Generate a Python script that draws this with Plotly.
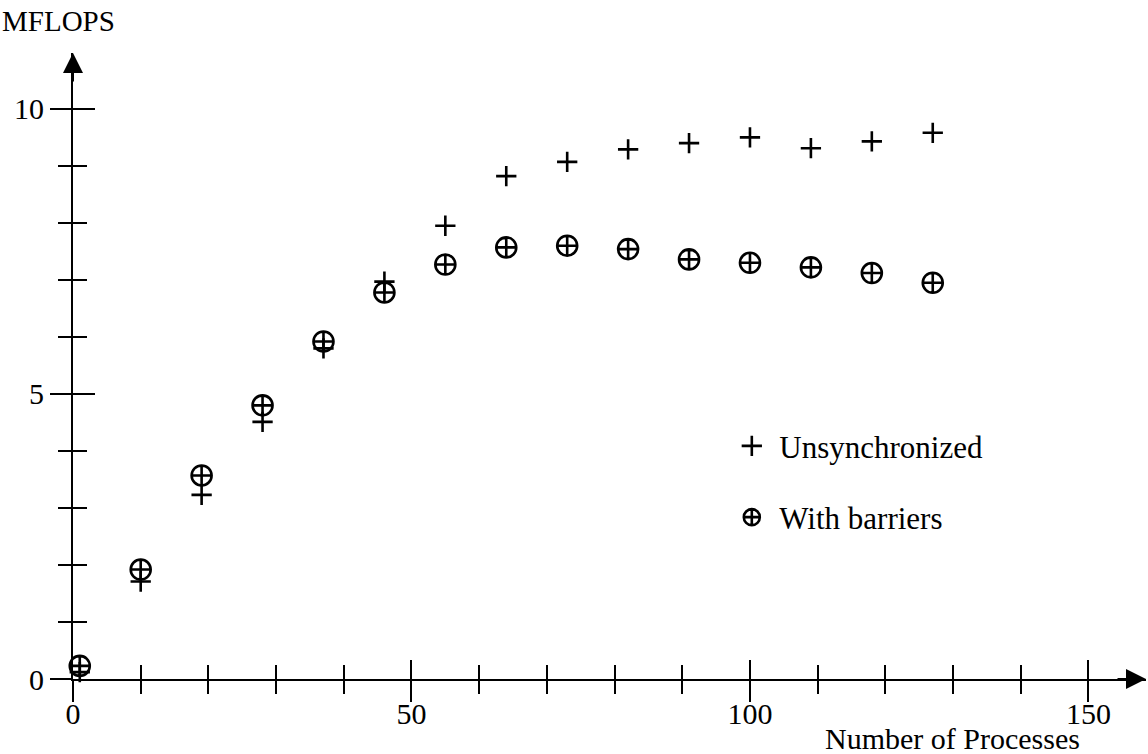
import plotly.graph_objects as go

# ---- data ----
processes = [1, 10, 19, 28, 37, 46, 55, 64, 73, 82, 91, 100, 109, 118, 127]
unsynchronized = [0.12, 1.71, 3.23, 4.51, 5.80, 6.97, 7.95, 8.82, 9.07, 9.29, 9.40, 9.50, 9.31, 9.43, 9.58]
with_barriers = [0.23, 1.92, 3.57, 4.80, 5.92, 6.78, 7.27, 7.57, 7.60, 7.54, 7.36, 7.30, 7.22, 7.12, 6.95]
series_names = ["Unsynchronized", "With barriers"]
x_title = "Number of Processes"
y_title = "MFLOPS"

X_RANGE = [0, 158.5]
Y_RANGE = [0, 10.98]
FONT = "Liberation Serif, Times New Roman, serif"

fig = go.Figure()
fig.add_trace(go.Scatter(
    x=processes, y=unsynchronized, mode="markers", name=series_names[0],
    legendgroup="a", cliponaxis=False,
    marker=dict(symbol="cross-thin-open", size=14.5, color="black",
                line=dict(color="black", width=2.6)),
))
fig.add_trace(go.Scatter(
    x=processes, y=with_barriers, mode="markers", name=series_names[1],
    legendgroup="b", cliponaxis=False, xaxis="x2", yaxis="y2",
    marker=dict(symbol="circle-cross-open", size=20, color="black",
                line=dict(color="black", width=2.6)),
))

tickfont = dict(family=FONT, size=30, color="black")
common_x = dict(range=X_RANGE, showgrid=False, zeroline=False, tickmode="linear",
                tick0=0, dtick=50, tickcolor="black", tickwidth=2.2, fixedrange=True)
common_y = dict(range=Y_RANGE, showgrid=False, zeroline=False, tickmode="linear",
                tick0=0, dtick=5, tickcolor="black", tickwidth=2.2, fixedrange=True)

fig.update_layout(
    width=1148, height=754,
    margin=dict(l=73, r=2, t=53, b=75),
    paper_bgcolor="white", plot_bgcolor="white",
    font=dict(family=FONT, color="black"),
    xaxis=dict(**common_x, showline=True, linecolor="black", linewidth=2,
               ticks="outside", ticklen=21, tickfont=tickfont, ticklabelstandoff=-14,
               minor=dict(dtick=10, ticks="outside", ticklen=13, tickwidth=2,
                          tickcolor="black", showgrid=False)),
    xaxis2=dict(**common_x, overlaying="x", anchor="y", side="bottom",
                showline=False, ticks="inside", ticklen=19, showticklabels=False,
                minor=dict(dtick=10, ticks="inside", ticklen=14, tickwidth=2,
                           tickcolor="black", showgrid=False)),
    yaxis=dict(**common_y, showline=True, linecolor="black", linewidth=2,
               ticks="outside", ticklen=21, tickfont=tickfont,
               minor=dict(dtick=1, ticks="outside", ticklen=13, tickwidth=2,
                          tickcolor="black", showgrid=False)),
    yaxis2=dict(**common_y, overlaying="y", anchor="x", side="left",
                showline=False, ticks="inside", ticklen=22, showticklabels=False,
                minor=dict(dtick=1, ticks="inside", ticklen=14, tickwidth=2,
                           tickcolor="black", showgrid=False)),
    legend=dict(x=0.607, y=0.415, xanchor="left", yanchor="top",
                font=dict(family=FONT, size=31, color="black"),
                bgcolor="rgba(0,0,0,0)", tracegroupgap=28,
                traceorder="grouped", itemwidth=45),
    showlegend=True,
)

# axis titles
fig.add_annotation(text=y_title, xref="paper", yref="paper", x=-0.068, y=1.0,
                   yshift=32, xanchor="left", yanchor="middle", showarrow=False,
                   font=dict(family=FONT, size=29, color="black"))
fig.add_annotation(text=x_title, xref="paper", yref="paper", x=0.82, y=0,
                   yshift=-59, xanchor="center", yanchor="middle", showarrow=False,
                   font=dict(family=FONT, size=30, color="black"))

# arrowheads at the axis ends
fig.add_annotation(text="", xref="paper", yref="paper", x=0, y=1, ax=0, ay=30,
                   showarrow=True, arrowhead=2, arrowsize=2, arrowwidth=2,
                   arrowcolor="black", standoff=0)
fig.add_annotation(text="", xref="paper", yref="paper", x=1, y=0, ax=-30, ay=0,
                   showarrow=True, arrowhead=2, arrowsize=2, arrowwidth=2,
                   arrowcolor="black", standoff=0)

fig.write_html("out.html")
